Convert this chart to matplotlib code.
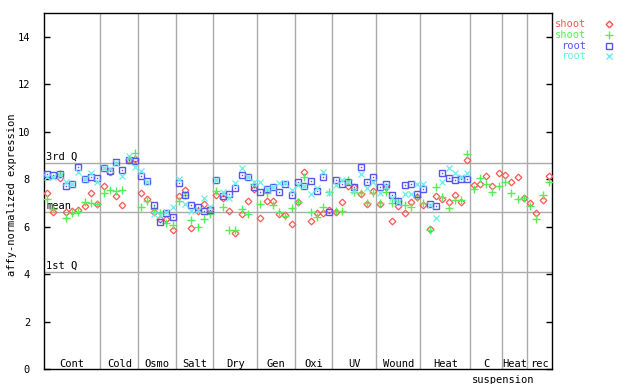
import matplotlib

matplotlib.use("Agg")
import matplotlib.pyplot as plt  # noqa: E402
from matplotlib.lines import Line2D  # noqa: E402

# experiment groups along the x axis and how many samples each holds
groups = ["Cont", "Cold", "Osmo", "Salt", "Dry", "Gen", "Oxi", "UV",
          "Wound", "Heat", "C", "Heat", "rec"]
group_sizes = [9, 6, 6, 6, 7, 6, 6, 7, 7, 8, 5, 4, 4]

# shoot replicates (all 81 samples)
shoot_1 = [7.43, 6.60, 8.03, 6.63, 6.65, 6.70, 6.87, 7.40, 6.94,
           7.70, 8.30, 7.28, 6.92, 8.82, 8.83,
           7.42, 7.16, 6.63, 6.33, 6.30, 5.86,
           7.27, 7.56, 5.96, 6.66, 6.94, 6.75,
           7.33, 7.20, 6.66, 5.72, 6.52, 7.08, 7.57,
           6.36, 7.09, 7.09, 6.54, 6.50, 6.10,
           7.02, 8.29, 6.24, 6.56, 6.56, 6.70,
           6.60, 7.03, 7.72, 7.65, 7.38, 6.95, 7.48,
           6.95, 7.66, 6.24, 6.87, 6.56, 7.03, 7.24,
           6.91, 5.89, 7.31, 7.16, 7.04, 7.33, 7.04, 8.81,
           7.75, 7.79, 8.13, 7.71, 8.24,
           8.17, 7.89, 8.07, 7.19,
           7.01, 6.56, 7.12, 8.13]
shoot_2 = [7.15, 6.75, 8.20, 6.35, 6.56, 6.63, 7.05, 6.98, 6.94,
           7.42, 7.54, 7.50, 7.54, 8.85, 9.09,
           6.82, 7.08, 6.73, 6.56, 6.14, 6.07,
           7.06, 7.35, 6.28, 6.00, 6.32, 6.55,
           7.48, 6.81, 5.86, 5.86, 6.73, 6.52, 7.80,
           6.94, 7.40, 6.90, 6.60, 6.44, 6.78,
           7.03, 8.10, 6.63, 6.40, 6.84, 7.45,
           6.66, 6.64, 7.96, 7.46, 7.43, 7.01, 7.42,
           6.98, 7.44, 7.00, 7.08, 6.91, 6.83, 7.26,
           6.98, 5.86, 7.68, 7.26, 6.80, 7.12, 7.12, 9.05,
           7.57, 8.03, 7.79, 7.44, 7.71,
           7.86, 7.43, 7.15, 7.19,
           6.87, 6.30, 7.33, 7.89]

# root replicates (no cell suspension samples)
root_1 = [8.22, 8.16, 8.22, 7.70, 7.78, 8.50, 7.99, 8.11, 8.03,
          8.45, 8.34, 8.71, 8.37, 8.80, 8.78,
          8.13, 7.91, 6.89, 6.19, 6.56, 6.39,
          7.82, 7.35, 6.90, 6.81, 6.65, 6.68,
          7.96, 7.31, 7.36, 7.61, 8.17, 8.09, 7.68,
          7.44, 7.57, 7.65, 7.44, 7.78, 7.32,
          7.87, 7.73, 7.92, 7.49, 8.08, 6.60,
          7.95, 7.78, 7.86, 7.65, 8.50, 7.86, 8.07,
          7.65, 7.78, 7.33, 7.07, 7.75, 7.78, 7.36,
          7.58, 6.94, 6.86, 8.25, 8.03, 7.96, 7.99, 8.00]
root_2 = [8.07, 8.07, 8.17, 7.87, 7.80, 8.32, 8.00, 8.25, 7.87,
          8.45, 8.42, 8.70, 8.13, 8.97, 8.50,
          8.33, 7.90, 6.54, 6.50, 6.60, 6.81,
          8.00, 6.95, 6.66, 6.72, 7.19, 6.81,
          7.95, 7.45, 7.20, 7.82, 8.49, 8.10, 7.89,
          7.90, 7.58, 7.66, 7.82, 7.84, 7.54,
          7.75, 7.70, 7.36, 7.63, 8.32, 7.42,
          7.74, 7.95, 7.88, 7.50, 8.21, 7.63, 7.87,
          7.40, 7.70, 7.22, 7.05, 7.36, 7.36, 7.80,
          7.80, 6.92, 6.36, 7.90, 8.49, 8.25, 8.10, 8.24]

# summary lines
q3_value = 8.67
mean_value = 6.60
q1_value = 4.07

RED = "#ff5555"
GREEN = "#55ee55"
BLUE = "#5555ee"
CYAN = "#66eeee"
GRID = "#aaaaaa"
FONT = "DejaVu Sans Mono"

plt.rcParams["font.family"] = FONT
plt.rcParams["font.size"] = 7.5

fig = plt.figure(figsize=(6.4, 3.84), dpi=100)
ax = fig.add_axes([44 / 640, 1 - 369 / 384, 508 / 640, 356 / 384])

n_total = sum(group_sizes)
ax.set_xlim(-0.5, n_total - 0.5)
ax.set_ylim(0, 15)

# group separators and labels
start = 0
for name, size in zip(groups, group_sizes):
    end = start + size
    if end < n_total:
        ax.axvline(end - 0.5, color=GRID, lw=1.0, zorder=1)
    ax.text((start + end - 1) / 2, 0.22, name, ha="center", va="center")
    start = end
ax.text(72.7, -0.45, "suspension", ha="center", va="center", clip_on=False)

# quartile / mean lines with labels
for val, lab in [(q3_value, "3rd Q"), (mean_value, "mean"), (q1_value, "1st Q")]:
    ax.axhline(val, color=GRID, lw=1.0, zorder=1)
    ax.text(0.004, val + 0.06, lab, transform=ax.get_yaxis_transform(),
            ha="left", va="bottom", zorder=2)

xs_shoot = list(range(len(shoot_1)))
xs_root = list(range(len(root_1)))

ax.plot(xs_shoot, shoot_1, ls="none", marker="D", ms=3.4, mfc="none",
        mec=RED, mew=0.9, zorder=3)
ax.plot(xs_shoot, shoot_2, ls="none", marker="+", ms=6, mec=GREEN,
        mew=1.0, zorder=3)
ax.plot(xs_root, root_1, ls="none", marker="s", ms=4.6, mfc="none",
        mec=BLUE, mew=1.0, zorder=4)
ax.plot(xs_root, root_1, ls="none", marker="s", ms=1.0, mfc=BLUE,
        mec=BLUE, mew=0, zorder=4)
ax.plot(xs_root, root_2, ls="none", marker="x", ms=4.5, mec=CYAN,
        mew=0.9, zorder=4)

ax.set_yticks(range(0, 16, 2))
ax.set_xticks([])
ax.tick_params(axis="y", direction="in", length=4, width=1, left=True,
               right=True, pad=10)
ax.set_ylabel("affy-normalized expression", va="center")
ax.yaxis.set_label_coords(-0.063, 0.49)
for sp in ax.spines.values():
    sp.set_linewidth(1.0)

# legend drawn beside the top right corner
legend_rows = [("shoot", RED, "D", 3.4), ("shoot", GREEN, "+", 6),
               ("root", BLUE, "s", 4.6), ("root", CYAN, "x", 4.5)]
for k, (lab, col, mk, ms) in enumerate(legend_rows):
    y = 1 - (24 + 10.8 * k) / 384
    fig.text(586 / 640, y, lab, color=col, ha="right", va="center")
    fig.add_artist(Line2D([609 / 640], [y], marker=mk, ms=ms, mfc="none",
                          mec=col, mew=1.0, ls="none",
                          transform=fig.transFigure))

fig.savefig("out.png", dpi=100)
